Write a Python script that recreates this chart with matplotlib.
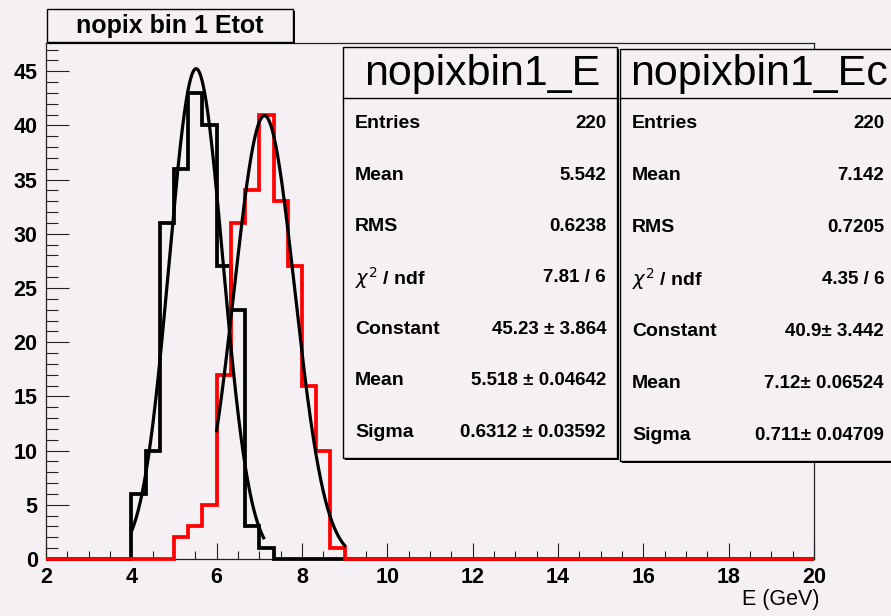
import numpy as np
import matplotlib
matplotlib.use('Agg')
import matplotlib.pyplot as plt
from matplotlib.patches import Rectangle
from matplotlib.lines import Line2D
from matplotlib.ticker import MultipleLocator

plt.rcParams['font.family'] = ['Liberation Sans', 'DejaVu Sans']
plt.rcParams['mathtext.fontset'] = 'dejavusans'

W, H = 891, 616
BG = '#f4f0f3'

# binning: 54 bins of 1/3 GeV from 2 to 20
e_min, e_max, n_bins = 2.0, 20.0, 54

# bin contents, listed from the first filled bin
e_start = 4.0
e_counts = [6, 10, 31, 36, 43, 40, 27, 23, 3, 1]
ec_start = 5.0
ec_counts = [2, 3, 5, 17, 31, 34, 41, 33, 27, 16, 10, 1]

# gaussian fits: Constant, Mean, Sigma and the fitted range
e_fit = [45.23, 5.518, 0.6312]
e_fit_range = [4.0, 7.1]
ec_fit = [40.9, 7.12, 0.711]
ec_fit_range = [6.0, 9.0]

# stat boxes
stat_names = ['nopixbin1_E', 'nopixbin1_Ec']
stat_labels = ['Entries', 'Mean', 'RMS', r'$\chi^2$ / ndf', 'Constant', 'Mean', 'Sigma']
e_stats = ['220', '5.542', '0.6238', '7.81 / 6', '45.23 ± 3.864',
           '5.518 ± 0.04642', '0.6312 ± 0.03592']
ec_stats = ['220', '7.142', '0.7205', '4.35 / 6', '40.9± 3.442',
            '7.12± 0.06524', '0.711± 0.04709']

edges = np.linspace(e_min, e_max, n_bins + 1)
bw = (e_max - e_min) / n_bins


def fill(start, counts):
    h = np.zeros(n_bins)
    i0 = int(round((start - e_min) / bw))
    h[i0:i0 + len(counts)] = counts
    return h


def gaus(x, c, m, s):
    return c * np.exp(-0.5 * ((x - m) / s) ** 2)


# pixel -> figure fraction helpers
fx = lambda px: px / W
fy = lambda py: 1 - py / H

fig = plt.figure(figsize=(W / 100, H / 100), dpi=100, facecolor=BG)
ax = fig.add_axes([fx(46), fy(559), fx(814) - fx(46), fy(43) - fy(559)])
ax.set_facecolor(BG)

ax.stairs(fill(e_start, e_counts), edges, color='black', lw=2.7, clip_on=False, zorder=3)
ax.stairs(fill(ec_start, ec_counts), edges, color='#ff0000', lw=2.7, clip_on=False, zorder=4)

for par, rng in [(e_fit, e_fit_range), (ec_fit, ec_fit_range)]:
    xx = np.linspace(rng[0], rng[1], 300)
    ax.plot(xx, gaus(xx, *par), color='black', lw=2.3, zorder=5)

ax.set_xlim(e_min, e_max)
ax.set_ylim(0, 47.6)
ax.xaxis.set_major_locator(MultipleLocator(2))
ax.xaxis.set_minor_locator(MultipleLocator(0.5))
ax.yaxis.set_major_locator(MultipleLocator(5))
ax.yaxis.set_minor_locator(MultipleLocator(1))
ax.tick_params(axis='both', which='both', direction='in', width=0.8, color='#222222')
ax.tick_params(axis='x', which='major', length=11.2, pad=6, labelsize=15.5)
ax.tick_params(axis='x', which='minor', length=5.6)
ax.tick_params(axis='y', which='major', length=16.6, pad=6, labelsize=15.5)
ax.tick_params(axis='y', which='minor', length=8.3)
for lab in ax.get_xticklabels() + ax.get_yticklabels():
    lab.set_fontweight('bold')
for sp in ax.spines.values():
    sp.set_linewidth(0.9)
    sp.set_color('#222222')

fig.text(fx(819), fy(600), 'E (GeV)', ha='right', va='center', fontsize=15.5)

# title box
fig.add_artist(Rectangle((fx(49), fy(44)), fx(293) - fx(47), fy(9) - fy(42),
                         transform=fig.transFigure, facecolor='black', edgecolor='none', zorder=6))
fig.add_artist(Rectangle((fx(47), fy(42)), fx(293) - fx(47), fy(9) - fy(42),
                         transform=fig.transFigure, facecolor=BG, edgecolor='black', lw=1, zorder=7))
fig.text(fx(170), fy(25.5), 'nopix bin 1 Etot', ha='center', va='center',
         fontsize=18, fontweight='bold', zorder=8)


def stat_box(x0, x1, y0, y1, ysep, name, values):
    fig.add_artist(Rectangle((fx(x0 + 2), fy(y1 + 2)), fx(x1) - fx(x0), fy(y0) - fy(y1),
                             transform=fig.transFigure, facecolor='black', edgecolor='none', zorder=6))
    fig.add_artist(Rectangle((fx(x0), fy(y1)), fx(x1) - fx(x0), fy(y0) - fy(y1),
                             transform=fig.transFigure, facecolor=BG, edgecolor='black', lw=1, zorder=7))
    fig.add_artist(Line2D([fx(x0), fx(x1)], [fy(ysep), fy(ysep)], transform=fig.transFigure,
                          color='black', lw=1, zorder=8))
    fig.text(fx((x0 + x1) / 2 + 2), fy((y0 + ysep) / 2 + 1), name, ha='center', va='center',
             fontsize=31, zorder=9)
    step = (y1 - ysep) / len(values)
    for i, (lab, val) in enumerate(zip(stat_labels, values)):
        yc = ysep + step * (i + 0.5)
        fig.text(fx(x0 + 12), fy(yc), lab, ha='left', va='center', fontsize=14,
                 fontweight='bold', zorder=9)
        fig.text(fx(x1 - 11), fy(yc), val, ha='right', va='center', fontsize=13.5,
                 fontweight='bold', zorder=9)


stat_box(343, 617, 47, 458, 98, stat_names[0], e_stats)
stat_box(620, 895, 49, 461, 98, stat_names[1], ec_stats)

fig.savefig('out.png', dpi=100, facecolor=BG)
